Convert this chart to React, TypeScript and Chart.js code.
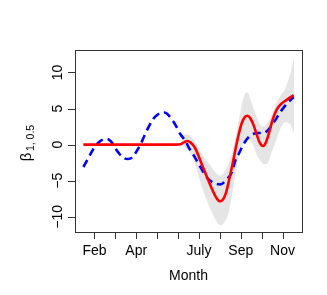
import React, { useEffect, useRef } from "react";
import { Chart, registerables } from "chart.js";

Chart.register(...registerables);

// Red solid curve
const redMonths = [1.47, 2.0, 3.0, 4.0, 5.0, 5.9, 6.1, 6.3, 6.45, 6.6, 6.8, 7.0, 7.2, 7.4, 7.6, 7.8, 8.0, 8.15, 8.3, 8.45, 8.6, 8.75, 8.9, 9.05, 9.2, 9.32, 9.45, 9.6, 9.75, 9.9, 10.07, 10.2, 10.35, 10.5, 10.65, 10.8, 11.0, 11.2, 11.4, 11.53];
const redValues = [0, 0, 0, 0, 0, 0, 0.05, 0.35, 0.5, 0.3, -0.4, -1.7, -3.2, -4.6, -6.0, -7.2, -7.85, -7.6, -6.6, -4.8, -2.8, -0.6, 1.4, 3.0, 3.85, 4.0, 3.7, 2.8, 1.5, 0.3, -0.2, 0.3, 1.6, 3.2, 4.4, 5.2, 5.8, 6.2, 6.6, 6.85];

// Blue dashed curve
const blueMonths = [1.47, 1.7, 1.95, 2.2, 2.45, 2.6, 2.8, 3.0, 3.2, 3.4, 3.6, 3.8, 4.0, 4.2, 4.4, 4.6, 4.8, 5.0, 5.2, 5.35, 5.5, 5.7, 5.9, 6.1, 6.35, 6.55, 6.75, 7.07, 7.39, 7.7, 8.02, 8.3, 8.58, 8.74, 8.9, 9.14, 9.4, 9.62, 9.85, 10.09, 10.3, 10.49, 10.7, 10.89, 11.1, 11.37, 11.53];
const blueValues = [-3.1, -1.9, -0.6, 0.3, 0.75, 0.8, 0.4, -0.5, -1.3, -1.85, -2.0, -1.8, -1.0, 0.0, 1.3, 2.5, 3.5, 4.1, 4.4, 4.45, 4.2, 3.5, 2.6, 1.5, 0.5, -0.6, -1.5, -3.1, -4.6, -5.3, -5.5, -4.9, -3.8, -2.2, -1.3, 0.1, 1.1, 1.5, 1.6, 1.6, 2.0, 2.7, 3.6, 4.5, 5.3, 6.15, 6.6];

// Gray confidence band
const bandMonths = [6.2, 6.3, 6.5, 6.72, 7.07, 7.3, 7.55, 7.8, 8.02, 8.2, 8.42, 8.66, 8.9, 9.14, 9.3, 9.54, 9.75, 9.94, 10.1, 10.25, 10.49, 10.7, 10.9, 11.13, 11.35, 11.55];
const bandUpper = [0.6, 1.4, 1.4, 0.8, -0.9, -2.0, -2.9, -3.9, -4.3, -3.9, -2.6, -0.2, 3.2, 6.6, 7.2, 5.6, 3.9, 2.7, 2.5, 2.9, 4.2, 5.7, 6.8, 7.8, 9.6, 12.0];
const bandLower = [0.0, -0.3, -0.9, -1.9, -5.2, -7.2, -8.9, -10.4, -11.2, -10.8, -9.4, -5.65, -1.9, 0.36, 0.6, 0.3, -1.3, -2.2, -2.7, -2.7, -1.0, 0.6, 2.2, 3.1, 2.9, 1.6];

// Axis ticks
const xTickMonths = [2, 3, 4, 5, 6, 7, 8, 9, 10, 11];
const xLabelMonths = [2, 4, 7, 9, 11];
const xLabels = ["Feb", "Apr", "July", "Sep", "Nov"];
const yTickValues = [-10, -5, 0, 5, 10];
const yTickLabels = ["\u221210", "\u22125", "0", "5", "10"];

const xTitle = "Month";
const yTitleMain = "\u03b2";
const yTitleSub = "1, 0.5";

const pts = (xs: number[], ys: number[]) => xs.map((x, i) => ({ x, y: ys[i] }));

const FONT = "'Liberation Sans', Arial, Helvetica, sans-serif";

const rAxesPlugin = {
  id: "rAxes",
  afterDraw(chart: any) {
    const ctx = chart.ctx as CanvasRenderingContext2D;
    const { left, right, top, bottom } = chart.chartArea;
    const xs = chart.scales.x;
    const ys = chart.scales.y;
    ctx.save();
    ctx.strokeStyle = "#333";
    ctx.lineWidth = 1;
    ctx.strokeRect(Math.round(left) + 0.5, Math.round(top) + 0.5, Math.round(right - left), Math.round(bottom - top));

    ctx.beginPath();
    xTickMonths.forEach((m) => {
      const px = Math.round(xs.getPixelForValue(m)) + 0.5;
      ctx.moveTo(px, Math.round(bottom));
      ctx.lineTo(px, Math.round(bottom) + 7);
    });
    yTickValues.forEach((v) => {
      const py = Math.round(ys.getPixelForValue(v)) + 0.5;
      ctx.moveTo(Math.round(left), py);
      ctx.lineTo(Math.round(left) - 7, py);
    });
    ctx.stroke();

    ctx.fillStyle = "#000";
    ctx.font = `14px ${FONT}`;
    ctx.textAlign = "center";
    ctx.textBaseline = "alphabetic";
    xLabelMonths.forEach((m, i) => {
      ctx.fillText(xLabels[i], xs.getPixelForValue(m), 255);
    });
    ctx.fillText(xTitle, (left + right) / 2, 279.5);

    yTickValues.forEach((v, i) => {
      const py = ys.getPixelForValue(v);
      ctx.save();
      ctx.translate(61.5, py);
      ctx.rotate(-Math.PI / 2);
      ctx.fillText(yTickLabels[i], 0, 0);
      ctx.restore();
    });

    ctx.save();
    ctx.translate(30.5, (top + bottom) / 2 + 2);
    ctx.rotate(-Math.PI / 2);
    ctx.textAlign = "left";
    ctx.font = `15px ${FONT}`;
    const wB = ctx.measureText(yTitleMain).width;
    ctx.font = `10.5px ${FONT}`;
    const wS = ctx.measureText(yTitleSub).width;
    const total = wB + 1.5 + wS;
    const start = -total / 2;
    ctx.font = `15px ${FONT}`;
    ctx.fillText(yTitleMain, start, 0);
    ctx.font = `10.5px ${FONT}`;
    ctx.fillText(yTitleSub, start + wB + 1.5, 3);
    ctx.restore();

    ctx.restore();
  },
};

export default function App() {
  const ref = useRef<HTMLCanvasElement>(null);
  useEffect(() => {
    if (!ref.current) return;
    const chart = new Chart(ref.current, {
      type: "line",
      data: {
        datasets: [
          {
            data: pts(bandMonths, bandUpper),
            borderWidth: 0,
            borderColor: "rgba(0,0,0,0)",
            backgroundColor: "#E5E5E5",
            pointRadius: 0,
            fill: "+1",
            order: 4,
            cubicInterpolationMode: "monotone",
          },
          {
            data: pts(bandMonths, bandLower),
            borderWidth: 0,
            borderColor: "rgba(0,0,0,0)",
            pointRadius: 0,
            fill: false,
            order: 3,
            cubicInterpolationMode: "monotone",
          },
          {
            data: pts(blueMonths, blueValues),
            borderColor: "#0000FF",
            borderWidth: 2.6,
            borderDash: [8, 5],
            borderCapStyle: "butt",
            pointRadius: 0,
            fill: false,
            order: 2,
            cubicInterpolationMode: "monotone",
          },
          {
            data: pts(redMonths, redValues),
            borderColor: "#FF0000",
            borderWidth: 2.6,
            pointRadius: 0,
            fill: false,
            order: 1,
            cubicInterpolationMode: "monotone",
          },
        ],
      },
      options: {
        animation: false,
        responsive: false,
        devicePixelRatio: 1,
        layout: { padding: { left: 75, top: 50, right: 25, bottom: 63 } },
        scales: {
          x: { type: "linear", min: 1.07, max: 11.93, display: false },
          y: { type: "linear", min: -12.1, max: 13.1, display: false },
        },
        plugins: {
          legend: { display: false },
          tooltip: { enabled: false },
          filler: { drawTime: "beforeDatasetsDraw" },
        },
      },
      plugins: [rAxesPlugin],
    } as any);
    return () => chart.destroy();
  }, []);
  return (
    <div style={{ position: "absolute", left: 0, top: 0, width: 327, height: 295, background: "#fff" }}>
      <canvas ref={ref} width={327} height={295} />
    </div>
  );
}
